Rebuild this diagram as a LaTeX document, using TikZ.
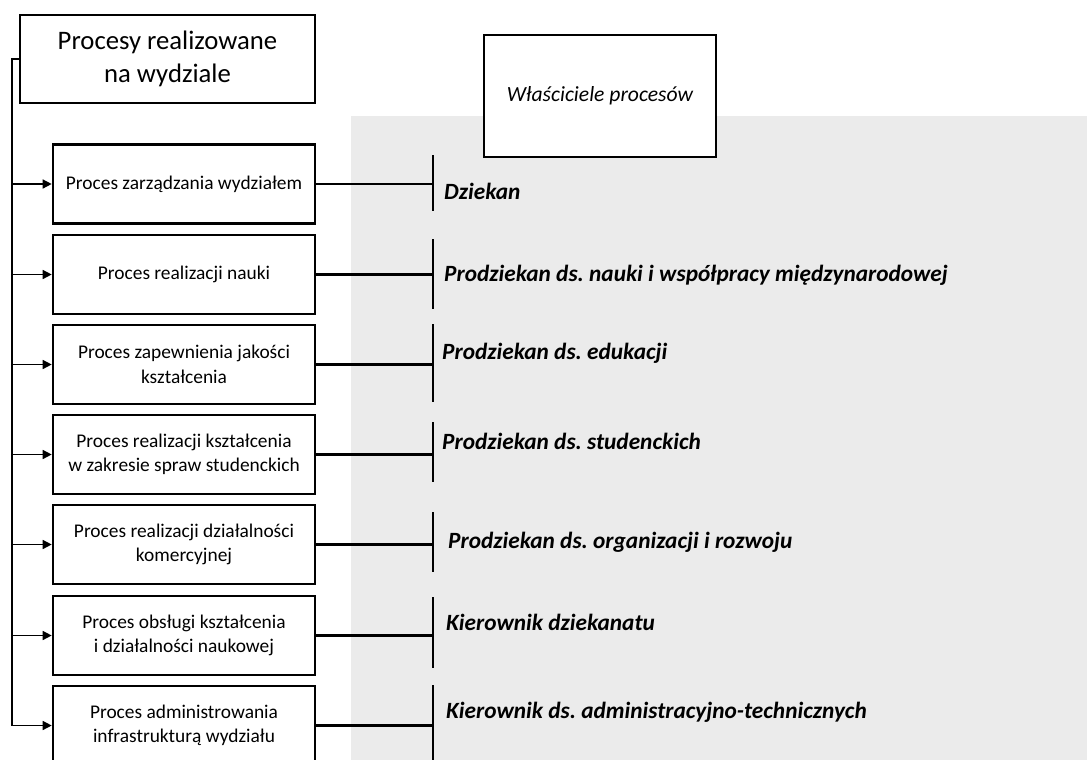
\documentclass[tikz,border=0pt]{standalone}
\usepackage{fontspec}
\setmainfont{Carlito}
\usetikzlibrary{arrows.meta}
\definecolor{ownerbg}{HTML}{EBEBEB}
\frenchspacing
\tikzset{
  procbox/.style={draw, line width=2.6pt, minimum width=262pt, minimum height=79pt, align=center, inner sep=0pt, font=\fontsize{19.4}{24.5}\selectfont},
  ownerlabel/.style={anchor=west, inner sep=0pt, font=\fontsize{23.3}{27}\selectfont\bfseries\itshape},
  ownerbar/.style={line width=2.6pt},
  ownerlink/.style={line width=2.4pt},
  trunkline/.style={line width=1.2pt},
  feedarrow/.style={line width=1.4pt, -{Triangle[length=9pt,width=9pt]}}
}
\begin{document}
\begin{tikzpicture}[x=1pt,y=-1pt]
\useasboundingbox (0,0) rectangle (1087,760);
\fill[ownerbg] (351,116) rectangle (1087,760);
% headers
\node[draw, line width=2.6pt, minimum width=295pt, minimum height=88pt, align=center, inner sep=0pt, font=\fontsize{26.7}{33}\selectfont] (top) at (167.5,59) {Procesy realizowane\\na wydziale};
\node[draw, fill=white, line width=2.6pt, minimum width=232pt, minimum height=122pt, inner sep=0pt, font=\fontsize{21.6}{26}\selectfont\itshape] (own) at (600,96) {Właściciele procesów};
% processes
\node[procbox] (p1) at (184,184) {Proces zarządzania wydziałem};
\node[procbox] (p2) at (184,274.5) {Proces realizacji nauki};
\node[procbox] (p3) at (184,364.5) {Proces zapewnienia jakości\\kształcenia};
\node[procbox] (p4) at (184,454.5) {Proces realizacji kształcenia\\w zakresie spraw studenckich};
\node[procbox] (p5) at (184,544.5) {Proces realizacji działalności\\komercyjnej};
\node[procbox] (p6) at (184,635.5) {Proces obsługi kształcenia\\i działalności naukowej};
\node[procbox] (p7) at (184,725.5) {Proces administrowania\\infrastrukturą wydziału};
% trunk
\coordinate (t0) at (12,59);
\coordinate (t7) at (12,725.5);
\draw[trunkline] (top.west) -- (t0) -- (t7);
\draw[feedarrow] (t0 |- p1.west) -- (p1.west);
\draw[feedarrow] (t0 |- p2.west) -- (p2.west);
\draw[feedarrow] (t0 |- p3.west) -- (p3.west);
\draw[feedarrow] (t0 |- p4.west) -- (p4.west);
\draw[feedarrow] (t0 |- p5.west) -- (p5.west);
\draw[feedarrow] (t0 |- p6.west) -- (p6.west);
\draw[feedarrow] (t0 |- p7.west) -- (p7.west);
% owner bars
\coordinate (b1t) at (433,155); \coordinate (b1b) at (433,211);
\coordinate (b2t) at (433,239); \coordinate (b2b) at (433,309);
\coordinate (b3t) at (433,324); \coordinate (b3b) at (433,402);
\coordinate (b4t) at (433,422); \coordinate (b4b) at (433,482);
\coordinate (b5t) at (433,512); \coordinate (b5b) at (433,572);
\coordinate (b6t) at (433,597); \coordinate (b6b) at (433,668);
\coordinate (b7t) at (433,685); \coordinate (b7b) at (433,762);
\draw[ownerbar] (b1t) -- (b1b);
\draw[ownerbar] (b2t) -- (b2b);
\draw[ownerbar] (b3t) -- (b3b);
\draw[ownerbar] (b4t) -- (b4b);
\draw[ownerbar] (b5t) -- (b5b);
\draw[ownerbar] (b6t) -- (b6b);
\draw[ownerbar] (b7t) -- (b7b);
\draw[ownerlink] (p1.east) -- (p1.east -| b1t);
\draw[ownerlink] (p2.east) -- (p2.east -| b2t);
\draw[ownerlink] (p3.east) -- (p3.east -| b3t);
\draw[ownerlink] (p4.east) -- (p4.east -| b4t);
\draw[ownerlink] (p5.east) -- (p5.east -| b5t);
\draw[ownerlink] (p6.east) -- (p6.east -| b6t);
\draw[ownerlink] (p7.east) -- (p7.east -| b7t);
% owners
\node[ownerlabel] (o1) at (444,191) {Dziekan};
\node[ownerlabel] (o2) at (444,275) {Prodziekan ds. nauki i współpracy międzynarodowej};
\node[ownerlabel] (o3) at (442,353) {Prodziekan ds. edukacji};
\node[ownerlabel] (o4) at (442,441) {Prodziekan ds. studenckich};
\node[ownerlabel] (o5) at (448,542) {Prodziekan ds. organizacji i rozwoju};
\node[ownerlabel] (o6) at (446,622) {Kierownik dziekanatu};
\node[ownerlabel] (o7) at (446,712) {Kierownik ds. administracyjno-technicznych};
\end{tikzpicture}
\end{document}
